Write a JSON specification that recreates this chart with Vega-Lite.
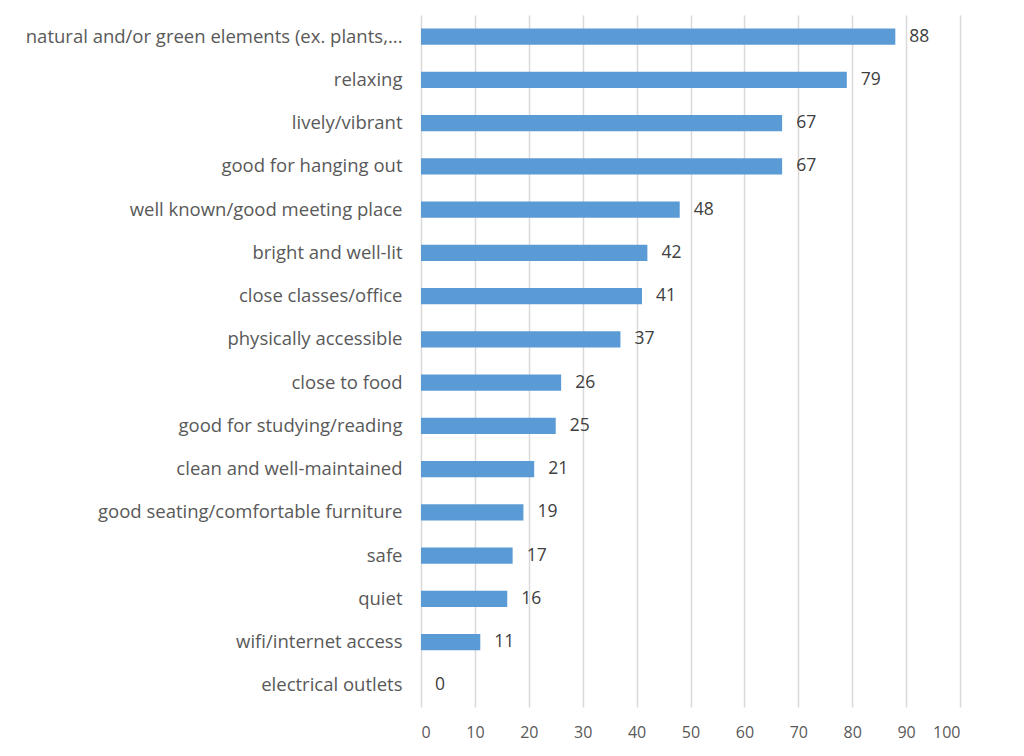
{
  "$schema": "https://vega.github.io/schema/vega-lite/v6.json",
  "autosize": "none",
  "width": 539,
  "height": 692,
  "padding": {"left": 421, "top": 15, "right": 64, "bottom": 49},
  "background": "white",
  "data": {
    "values": [
      {"category": "natural and/or green elements (ex. plants,...", "value": 88},
      {"category": "relaxing", "value": 79},
      {"category": "lively/vibrant", "value": 67},
      {"category": "good for hanging out", "value": 67},
      {"category": "well known/good meeting place", "value": 48},
      {"category": "bright and well-lit", "value": 42},
      {"category": "close classes/office", "value": 41},
      {"category": "physically accessible", "value": 37},
      {"category": "close to food", "value": 26},
      {"category": "good for studying/reading", "value": 25},
      {"category": "clean and well-maintained", "value": 21},
      {"category": "good seating/comfortable furniture", "value": 19},
      {"category": "safe", "value": 17},
      {"category": "quiet", "value": 16},
      {"category": "wifi/internet access", "value": 11},
      {"category": "electrical outlets", "value": 0}
    ]
  },
  "encoding": {
    "y": {
      "field": "category",
      "type": "nominal",
      "sort": null,
      "scale": {"paddingInner": 0.63, "paddingOuter": 0.315},
      "axis": {
        "title": null,
        "ticks": false,
        "domain": false,
        "labelPadding": 19,
        "labelFont": "Open Sans",
        "labelFontSize": 18.5,
        "labelColor": "#595959",
        "labelLimit": 420
      }
    },
    "x": {
      "field": "value",
      "type": "quantitative",
      "scale": {"domain": [0, 100], "nice": false},
      "axis": {
        "title": null,
        "values": [0, 10, 20, 30, 40, 50, 60, 70, 80, 90, 100],
        "ticks": false,
        "domain": false,
        "grid": true,
        "gridColor": "#d9d9d9",
        "gridWidth": 1.5,
        "labelPadding": 17,
        "labelFont": "Open Sans",
        "labelFontSize": 16,
        "labelColor": "#595959"
      }
    }
  },
  "layer": [
    {"mark": {"type": "bar", "color": "#5B9BD5"}},
    {
      "mark": {"type": "text", "align": "left", "baseline": "middle", "dx": 14, "font": "Open Sans", "fontSize": 17.5, "color": "#404040"},
      "encoding": {"text": {"field": "value", "type": "quantitative"}}
    }
  ],
  "config": {"view": {"stroke": null}}
}
